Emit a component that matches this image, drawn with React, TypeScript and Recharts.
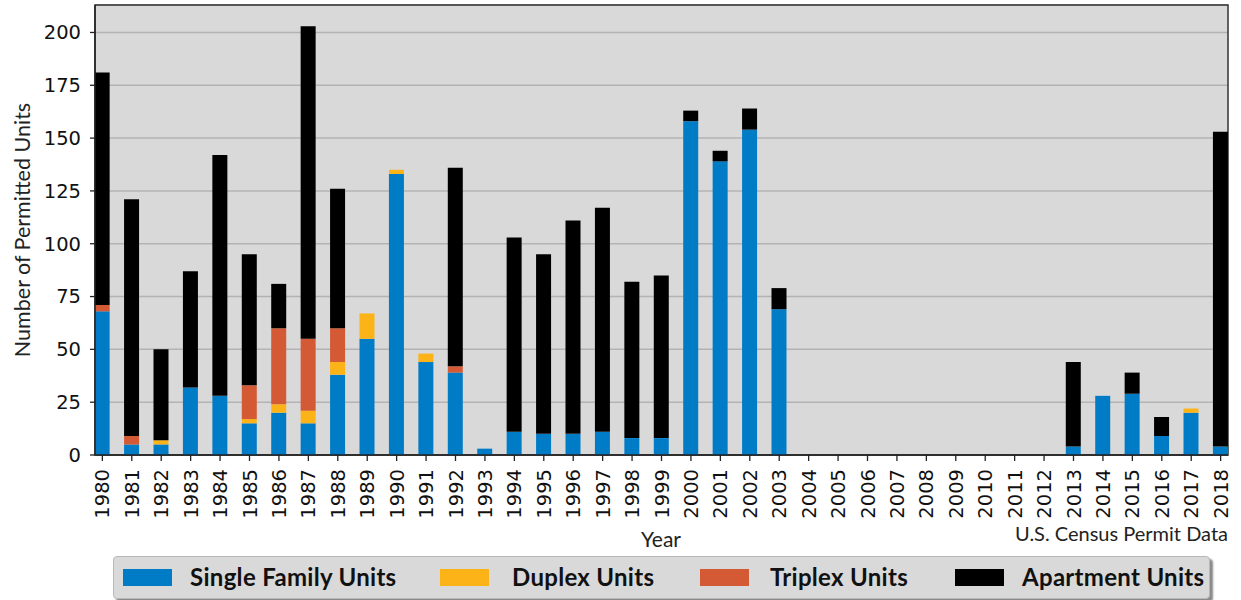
import React from 'react';
import {
  BarChart,
  Bar,
  XAxis,
  YAxis,
  CartesianGrid,
  ReferenceArea,
} from 'recharts';

const years = [
  1980, 1981, 1982, 1983, 1984, 1985, 1986, 1987, 1988, 1989,
  1990, 1991, 1992, 1993, 1994, 1995, 1996, 1997, 1998, 1999,
  2000, 2001, 2002, 2003, 2004, 2005, 2006, 2007, 2008, 2009,
  2010, 2011, 2012, 2013, 2014, 2015, 2016, 2017, 2018,
];

const singleFamily = [
  68, 5, 5, 32, 28, 15, 20, 15, 38, 55,
  133, 44, 39, 3, 11, 10, 10, 11, 8, 8,
  158, 139, 154, 69, 0, 0, 0, 0, 0, 0,
  0, 0, 0, 4, 28, 29, 9, 20, 4,
];

const duplex = [
  0, 0, 2, 0, 0, 2, 4, 6, 6, 12,
  2, 4, 0, 0, 0, 0, 0, 0, 0, 0,
  0, 0, 0, 0, 0, 0, 0, 0, 0, 0,
  0, 0, 0, 0, 0, 0, 0, 2, 0,
];

const triplex = [
  3, 4, 0, 0, 0, 16, 36, 34, 16, 0,
  0, 0, 3, 0, 0, 0, 0, 0, 0, 0,
  0, 0, 0, 0, 0, 0, 0, 0, 0, 0,
  0, 0, 0, 0, 0, 0, 0, 0, 0,
];

const apartment = [
  110, 112, 43, 55, 114, 62, 21, 148, 66, 0,
  0, 0, 94, 0, 92, 85, 101, 106, 74, 77,
  5, 5, 10, 10, 0, 0, 0, 0, 0, 0,
  0, 0, 0, 40, 0, 10, 9, 0, 149,
];

const yTicks = [0, 25, 50, 75, 100, 125, 150, 175, 200];

const series = [
  { key: 'single', name: 'Single Family Units', color: '#007cc7' },
  { key: 'duplex', name: 'Duplex Units', color: '#fcb317' },
  { key: 'triplex', name: 'Triplex Units', color: '#d45935' },
  { key: 'apartment', name: 'Apartment Units', color: '#000000' },
];

// legend item positions (swatch left, text left)
const legendSlots = [
  [123, 190],
  [440, 512],
  [700, 770],
  [955, 1022],
];

const data = years.map((year, i) => ({
  year,
  single: singleFamily[i],
  duplex: duplex[i],
  triplex: triplex[i],
  apartment: apartment[i],
}));

const tickFont = '"DejaVu Sans", sans-serif';
const labelFont = 'Lato, "Open Sans", sans-serif';

// rotated year labels, reading bottom to top
function YearTick({ x, y, payload }: any) {
  return (
    <g>
      <line x1={x} x2={x} y1={y - 14} y2={y - 8} stroke="#222" strokeWidth={1.3} />
      <text
        x={x}
        y={y}
        transform={`rotate(-90, ${x}, ${y})`}
        textAnchor="end"
        dy="0.36em"
        fontSize={19.5}
        fontFamily={tickFont}
        fill="#111"
      >
        {payload.value}
      </text>
    </g>
  );
}

export default function App() {
  return (
    <div style={{ position: 'absolute', left: 0, top: 0, width: 1241, height: 600, background: '#fff' }}>
      <BarChart
        width={1241}
        height={600}
        data={data}
        barSize={15}
        margin={{ top: 5, right: 13, bottom: 65, left: 0 }}
      >
        <CartesianGrid
          vertical={false}
          fill="#d9d9d9"
          stroke="#b3b3b3"
          strokeWidth={1.5}
        />
        <XAxis
          dataKey="year"
          type="number"
          domain={[1979.75, 2018.25]}
          ticks={years}
          interval={0}
          tickLine={false}
          tickSize={0}
          tick={<YearTick />}
          tickMargin={14}
          height={80}
          axisLine={{ stroke: '#222', strokeWidth: 1.5 }}
          allowDataOverflow
        />
        <YAxis
          type="number"
          domain={[0, 213]}
          ticks={yTicks}
          width={95}
          tickSize={5}
          tickMargin={9}
          tickLine={{ stroke: '#222', strokeWidth: 1.3 }}
          axisLine={{ stroke: '#222', strokeWidth: 1.5 }}
          tick={{ fontSize: 19.5, fontFamily: tickFont, fill: '#111' }}
          label={{
            value: 'Number of Permitted Units',
            angle: -90,
            position: 'insideLeft',
            offset: 22,
            style: { textAnchor: 'middle', fontSize: 21.5, fontFamily: labelFont, fill: '#222' },
          }}
        />
        {series.map((s) => (
          <Bar
            key={s.key}
            dataKey={s.key}
            name={s.name}
            stackId="a"
            fill={s.color}
            isAnimationActive={false}
          />
        ))}
        <ReferenceArea
          x1={1979.75}
          x2={2018.25}
          y1={0}
          y2={213}
          fill="none"
          stroke="#333"
          strokeWidth={1.5}
        />
      </BarChart>

      <div
        style={{
          position: 'absolute',
          left: 0,
          width: 1241,
          top: 523,
          fontFamily: labelFont,
          fontSize: 21,
          color: '#222',
          lineHeight: 1.2,
        }}
      >
        <span style={{ position: 'absolute', left: 641, top: 3 }}>Year</span>
        <span style={{ position: 'absolute', right: 13, top: -2, fontSize: 20 }}>U.S. Census Permit Data</span>
      </div>

      <div
        style={{
          position: 'absolute',
          left: 113,
          top: 556,
          width: 1097,
          height: 43,
          boxSizing: 'border-box',
          background: '#d9d9d9',
          border: '1px solid #b8b8b8',
          borderRadius: 4,
          boxShadow: '3px 3px 2px #8a8a8a',
          fontFamily: labelFont,
          fontWeight: 700,
          fontSize: 24,
          letterSpacing: 0.3,
          color: '#111',
        }}
      >
        {series.map((s, i) => (
          <React.Fragment key={s.key}>
            <span
              style={{
                position: 'absolute',
                left: legendSlots[i][0] - 114,
                top: 12,
                width: 49,
                height: 17,
                background: s.color,
              }}
            />
            <span style={{ position: 'absolute', left: legendSlots[i][1] - 114, top: 5, lineHeight: '30px' }}>
              {s.name}
            </span>
          </React.Fragment>
        ))}
      </div>
    </div>
  );
}
